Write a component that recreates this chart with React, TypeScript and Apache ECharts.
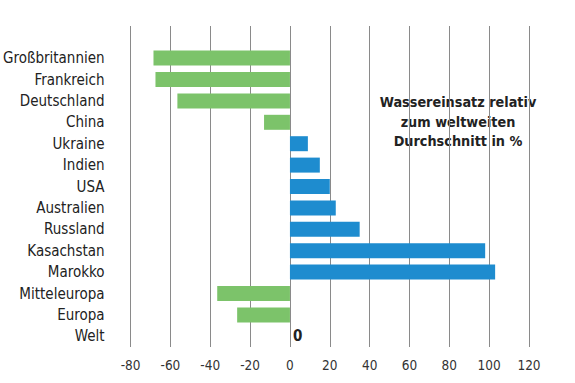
import React, { useEffect, useRef } from "react";
import * as echarts from "echarts";

const categories = [
  "",
  "Großbritannien",
  "Frankreich",
  "Deutschland",
  "China",
  "Ukraine",
  "Indien",
  "USA",
  "Australien",
  "Russland",
  "Kasachstan",
  "Marokko",
  "Mitteleuropa",
  "Europa",
  "Welt",
];
const values: (number | null)[] = [null, -68.5, -67.5, -56.5, -13, 9, 15, 20, 23, 35, 98, 103, -36.5, -26.5, 0];
const xTicks = { min: -80, max: 120, interval: 20 };
const noteLines = ["Wassereinsatz relativ", "zum weltweiten", "Durchschnitt in %"];

const GREEN = "#7cc36a";
const BLUE = "#1e8ccf";
const FONT = "DejaVu Sans Condensed, DejaVu Sans, sans-serif";

export default function App() {
  const ref = useRef<HTMLDivElement>(null);
  useEffect(() => {
    if (!ref.current) return;
    const chart = echarts.init(ref.current, undefined, { renderer: "svg" });
    chart.setOption({
      animation: false,
      backgroundColor: "#ffffff",
      grid: { left: 129, right: 46, top: 26, bottom: 36, containLabel: false },
      xAxis: {
        type: "value",
        min: xTicks.min,
        max: xTicks.max,
        interval: xTicks.interval,
        axisLine: { show: false },
        axisTick: { show: false },
        axisLabel: { color: "#333", fontSize: 13.5, fontFamily: FONT, margin: 11 },
        splitLine: { show: true, lineStyle: { color: "#8a8a8a", width: 1 } },
      },
      yAxis: {
        type: "category",
        inverse: true,
        data: categories,
        axisLine: { show: false },
        axisTick: { show: false },
        axisLabel: { color: "#222", fontSize: 15, fontFamily: FONT, margin: 26 },
        splitLine: { show: false },
      },
      series: [
        {
          type: "bar",
          barWidth: 15,
          data: values.map((v) => ({
            value: v,
            itemStyle: { color: v !== null && v < 0 ? GREEN : BLUE },
          })),
          label: {
            show: true,
            position: "right",
            distance: 3,
            color: "#222",
            fontWeight: "bold",
            fontSize: 15,
            fontFamily: FONT,
            formatter: (p: any) => (p.value === 0 ? "0" : ""),
          },
        },
      ],
      graphic: noteLines.map((t, i) => ({
        type: "text",
        x: 458,
        y: 102 + i * 19.5,
        style: {
          text: t,
          fill: "#222",
          font: `bold 14.3px ${FONT}`,
          textAlign: "center",
          textVerticalAlign: "middle",
        },
      })),
    });
    return () => chart.dispose();
  }, []);
  return <div ref={ref} style={{ width: 575, height: 383, position: "absolute", left: 0, top: 0 }} />;
}
